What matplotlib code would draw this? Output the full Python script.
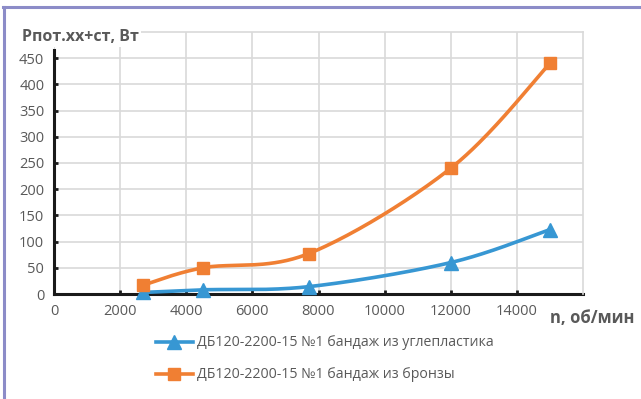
import numpy as np
import matplotlib
matplotlib.use('Agg')
import matplotlib.pyplot as plt
from matplotlib.lines import Line2D

# rotor speed, rpm
speed = [2700, 4500, 7700, 12000, 15000]
# losses, W
loss_carbon = [3, 8, 14, 60, 123]
loss_bronze = [17, 50, 77, 240, 440]

labels = ['ДБ120-2200-15 №1 бандаж из углепластика',
          'ДБ120-2200-15 №1 бандаж из бронзы']
xticks = [0, 2000, 4000, 6000, 8000, 10000, 12000, 14000]
yticks = [0, 50, 100, 150, 200, 250, 300, 350, 400, 450]

BLUE = '#3797d3'
ORANGE = '#f07f33'
GRAY = '#595959'

plt.rcParams['font.family'] = ['Open Sans', 'DejaVu Sans']


def smooth(x, y, n=40):
    # spreadsheet-style smoothed line: cubic bezier through every point
    x = np.asarray(x, float)
    y = np.asarray(y, float)
    px = np.concatenate([[x[0]], x, [x[-1]]])
    py = np.concatenate([[y[0]], y, [y[-1]]])
    t = np.linspace(0, 1, n)[:, None]
    xs, ys = [], []
    for i in range(1, len(px) - 2):
        p0 = np.array([px[i], py[i]])
        p3 = np.array([px[i + 1], py[i + 1]])
        c1 = p0 + (np.array([px[i + 1], py[i + 1]]) - np.array([px[i - 1], py[i - 1]])) / 6
        c2 = p3 - (np.array([px[i + 2], py[i + 2]]) - np.array([px[i], py[i]])) / 6
        b = ((1 - t) ** 3) * p0 + 3 * ((1 - t) ** 2) * t * c1 + 3 * (1 - t) * t ** 2 * c2 + t ** 3 * p3
        xs.append(b[:, 0])
        ys.append(b[:, 1])
    return np.concatenate(xs), np.concatenate(ys)


fig = plt.figure(figsize=(6.41, 3.99), dpi=100)
ax = fig.add_axes([54 / 641, 105 / 399, 529 / 641, 262 / 399])

for xv, yv, c, m, ms in [(speed, loss_carbon, BLUE, '^', 9.5),
                         (speed, loss_bronze, ORANGE, 's', 8.5)]:
    sx, sy = smooth(xv, yv)
    ax.plot(sx, sy, color=c, lw=2.6, zorder=3, clip_on=False)
    ax.plot(xv, yv, ls='none', marker=m, ms=ms, color=c, zorder=4, clip_on=False)

ax.set_xlim(0, 16000)
ax.set_ylim(0, 500)
ax.set_xticks(xticks)
ax.set_yticks(yticks)
ax.grid(True, color='#d9d9d9', lw=1.2)
ax.set_axisbelow(True)
for s in ['top', 'right']:
    ax.spines[s].set_color('#d9d9d9')
    ax.spines[s].set_linewidth(1.2)
for s in ['left', 'bottom']:
    ax.spines[s].set_color('#1a1a1a')
    ax.spines[s].set_linewidth(2.2)
    ax.spines[s].set_zorder(2)
ax.spines['left'].set_bounds(0, 465)
ax.tick_params(direction='in', length=3, width=2, color='#1a1a1a',
               labelcolor=GRAY, labelsize=10.5, pad=7)

fig.text(22 / 641, 1 - 37 / 399, 'Рпот.хх+ст, Вт', fontsize=11.5, fontweight='bold',
         color=GRAY, va='center', ha='left',
         bbox=dict(facecolor='white', edgecolor='none', pad=1.5))
fig.text(550 / 641, 1 - 318 / 399, 'n, об/мин', fontsize=12, fontweight='bold',
         color=GRAY, va='center', ha='left')

handles = [Line2D([], [], color=BLUE, lw=2.6, marker='^', ms=9.5),
           Line2D([], [], color=ORANGE, lw=2.6, marker='s', ms=8.5)]
fig.legend(handles, labels, loc='center left', bbox_to_anchor=(143 / 641, 1 - 359 / 399),
           frameon=False, fontsize=10.2, labelcolor=GRAY, handlelength=2.6,
           handletextpad=0.3, labelspacing=1.2)

# frame around the figure (top and left edges)
fig.add_artist(Line2D([3.5 / 641, 3.5 / 641], [0, 1 - 7 / 399], color='#8c8cc8', lw=2.2,
                      transform=fig.transFigure))
fig.add_artist(Line2D([2.5 / 641, 1], [1 - 7 / 399, 1 - 7 / 399], color='#8c8cc8', lw=2.2,
                      transform=fig.transFigure))

fig.savefig('out.png', dpi=100)
